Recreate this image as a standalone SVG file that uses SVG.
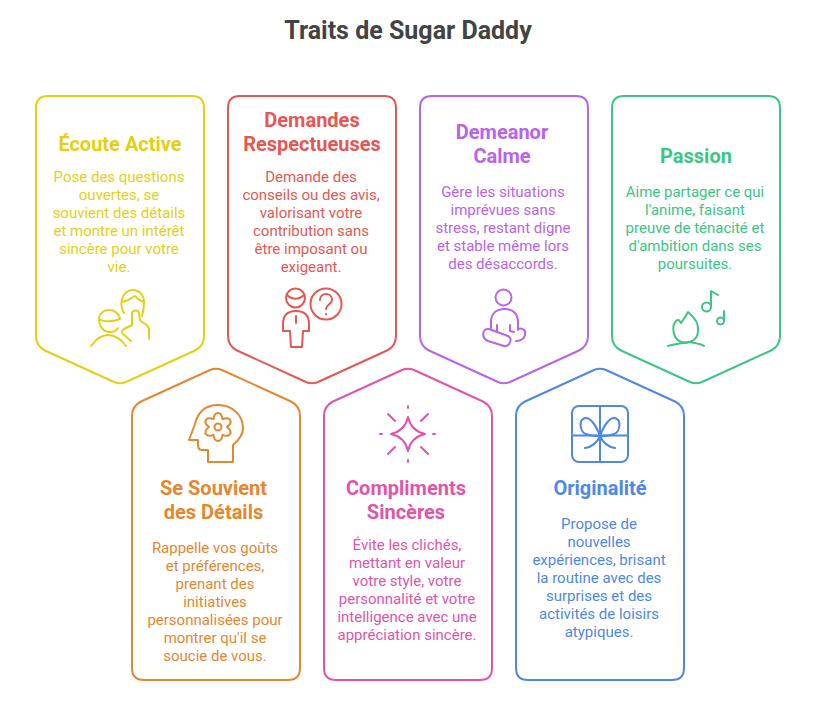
<svg xmlns="http://www.w3.org/2000/svg" width="816" height="716" viewBox="0 0 816 716">
<style>
text{font-family:Roboto,"Liberation Sans",sans-serif;text-anchor:middle}
.t{font-size:25px;font-weight:700;fill:#434343}
.h{font-size:20px;font-weight:700}
.b{font-size:15px}
.s{fill:none;stroke-width:2;stroke-linecap:round;stroke-linejoin:round}
.ic{fill:none;stroke-width:2;stroke-linecap:round;stroke-linejoin:round}
.y{fill:#e5cf14}.ys{stroke:#e5cf14}
.r{fill:#e55753}.rs{stroke:#e55753}
.p{fill:#b863e8}.ps{stroke:#b863e8}
.g{fill:#3cc583}.gs{stroke:#3cc583}
.o{fill:#e5872e}.os{stroke:#e5872e}
.m{fill:#e055a8}.ms{stroke:#e055a8}
.u{fill:#4e88e7}.us{stroke:#4e88e7}
</style>
<defs>
<path id="down" d="M12 0H156Q168 0 168 12V240Q168 250 159 254.500L90 286Q84 288.500 78 286L9 254.500Q0 250 0 240V12Q0 0 12 0Z"/>
<path id="up" d="M78 2Q84 -0.500 90 2L159 33.500Q168 38 168 48V300Q168 312 156 312H12Q0 312 0 300V48Q0 38 9 33.500Z"/>
</defs>
<text class="t" x="408" y="39">Traits de Sugar Daddy</text>
<g id="connectors"></g>
<g id="node-ecoute">
<use href="#down" x="36" y="96" class="s ys"/>
<text class="h y" x="120" y="151">Écoute Active</text>
<text class="b y"><tspan x="119" y="182">Pose des questions</tspan><tspan x="119" y="200">ouvertes, se</tspan><tspan x="119" y="218">souvient des détails</tspan><tspan x="119" y="236">et montre un intérêt</tspan><tspan x="119" y="254">sincère pour votre</tspan><tspan x="119" y="272">vie.</tspan></text>
<g class="ic ys"><path d="M124 313C121 308 121 303 122 299C124 293 128 290 133 290C139 290 144 295 144 302C144 308 143 313 142 316"/><path d="M122 302C127 301 131 299 135 296C138 300 141 301 144 302"/><path d="M132 325V314C132 310 138 309 139 313L140 320C141 323 149 323 149 330V339"/><path d="M132 325L124 329C121 331 122 333 123 334L131 341"/><path d="M99 319C103 322 112 322 120 319C119 313 114 310 109 310C103 310 99 314 99 319C99 327 104 332 110 332C113 332 116 331 118 328"/><path d="M91 346C96 339 102 335 108 335C115 335 121 339 126 346"/></g>
</g>
<g id="node-demandes">
<use href="#down" x="228" y="96" class="s rs"/>
<text class="h r"><tspan x="312" y="127">Demandes</tspan><tspan x="312" y="151">Respectueuses</tspan></text>
<text class="b r"><tspan x="311" y="182">Demande des</tspan><tspan x="311" y="200">conseils ou des avis,</tspan><tspan x="311" y="218">valorisant votre</tspan><tspan x="311" y="236">contribution sans</tspan><tspan x="311" y="254">être imposant ou</tspan><tspan x="311" y="272">exigeant.</tspan></text>
<g class="ic rs"><circle cx="295.500" cy="298" r="9.500"/><path d="M287 295C292 300 299 300 304 295"/><path d="M296 311C287 311 283 316 283 324V331H290L291 347H302L303 331H309V324C309 316 305 311 296 311Z"/><path d="M296 316V323"/><circle cx="326" cy="304" r="15.500"/><path d="M320 300C320 292 332 292 332 300C332 304 326 305 326 309"/><path d="M326 314V314.500"/></g>
</g>
<g id="node-demeanor">
<use href="#down" x="420" y="96" class="s ps"/>
<text class="h p"><tspan x="502" y="139">Demeanor</tspan><tspan x="502" y="163">Calme</tspan></text>
<text class="b p"><tspan x="503" y="197">Gère les situations</tspan><tspan x="503" y="215">imprévues sans</tspan><tspan x="503" y="233">stress, restant digne</tspan><tspan x="503" y="251">et stable même lors</tspan><tspan x="503" y="269">des désaccords.</tspan></text>
<g class="ic ps"><circle cx="503.500" cy="297.500" r="8"/><path d="M491 328V322C491 314 496 309 505 309C513 309 518 314 518 322V330"/><path d="M497 325V332M510 325V331L514 332"/><path d="M489 329L508 336C513 338 510 347 504 346L488 341C481 338 482 328 489 329Z"/><path d="M518 329C523 327 526 331 525 335C524 339 521 341 516 341"/></g>
</g>
<g id="node-passion">
<use href="#down" x="612" y="96" class="s gs"/>
<text class="h g" x="696" y="163">Passion</text>
<text class="b g"><tspan x="695" y="197">Aime partager ce qui</tspan><tspan x="695" y="215">l'anime, faisant</tspan><tspan x="695" y="233">preuve de ténacité et</tspan><tspan x="695" y="251">d'ambition dans ses</tspan><tspan x="695" y="269">poursuites.</tspan></text>
<g class="ic gs"><path d="M668 346C675 344 684 343 689 342C695 343 703 344 704 346"/><path d="M679 341C672 336 672 325 676 321C679 318 680 322 681 323C682 321 685 318 688 312C693 316 699 323 698 331C698 336 695 340 692 341C688 343 683 343 679 341Z"/><circle cx="706.500" cy="307" r="4.500"/><path d="M711 306V291L718 295"/><circle cx="720.500" cy="321" r="3.500"/><path d="M724 321V311"/></g>
</g>
<g id="node-details">
<use href="#up" x="132" y="368" class="s os"/>
<text class="h o"><tspan x="213.500" y="495">Se Souvient</tspan><tspan x="213.500" y="519">des Détails</tspan></text>
<text class="b o"><tspan x="215" y="553">Rappelle vos goûts</tspan><tspan x="215" y="571">et préférences,</tspan><tspan x="215" y="589">prenant des</tspan><tspan x="215" y="607">initiatives</tspan><tspan x="215" y="625">personnalisées pour</tspan><tspan x="215" y="643">montrer qu'il se</tspan><tspan x="215" y="661">soucie de vous.</tspan></text>
<g class="ic os"><path d="M208 462V450H202C199 450 198 448 198 445V440H189L195 424C198 412 206 405 218 405C232 405 243 415 243 428C243 434 239 440 233 445V462Z"/><circle cx="218" cy="427" r="3.500"/><path d="M213.500 419.200C214.500 411 221.500 411 222.500 419.200C230.100 416 233.600 422 227 427C233.600 432 230.100 438 222.500 434.800C221.500 443 214.500 443 213.500 434.800C205.900 438 202.400 432 209 427C202.400 422 205.900 416 213.500 419.200Z"/></g>
</g>
<g id="node-compliments">
<use href="#up" x="324" y="368" class="s ms"/>
<text class="h m"><tspan x="406" y="495">Compliments</tspan><tspan x="406" y="519">Sincères</tspan></text>
<text class="b m"><tspan x="407" y="550">Évite les clichés,</tspan><tspan x="407" y="568">mettant en valeur</tspan><tspan x="407" y="586">votre style, votre</tspan><tspan x="407" y="604">personnalité et votre</tspan><tspan x="407" y="622">intelligence avec une</tspan><tspan x="407" y="640">appréciation sincère.</tspan></text>
<g class="ic ms"><path d="M408 417C410 426 416 432 425 434C416 436 410 442 408 451C406 442 400 436 391 434C400 432 406 426 408 417Z"/><path d="M408 406V408M408 460V462M380 434H382M433 434H435M388 414L395 421M428 414L421 421M388 454L395 447M428 454L421 447"/></g>
</g>
<g id="node-originalite">
<use href="#up" x="516" y="368" class="s us"/>
<text class="h u" x="600" y="495">Originalité</text>
<text class="b u"><tspan x="599" y="529">Propose de</tspan><tspan x="599" y="547">nouvelles</tspan><tspan x="599" y="565">expériences, brisant</tspan><tspan x="599" y="583">la routine avec des</tspan><tspan x="599" y="601">surprises et des</tspan><tspan x="599" y="619">activités de loisirs</tspan><tspan x="599" y="637">atypiques.</tspan></text>
<g class="ic us"><rect x="572" y="406" width="56" height="56" rx="7"/><path d="M600 406V462M572 435.500H628"/><path d="M600 436C596 425 590 417 585 418C578 420 580 432 586 434C590 436 596 436 600 436C604 436 610 436 614 434C620 432 622 420 615 418C610 417 604 425 600 436Z"/><path d="M600 436C597 443 591 447 585 448M600 436C603 443 609 447 615 448"/></g>
</g>
</svg>
